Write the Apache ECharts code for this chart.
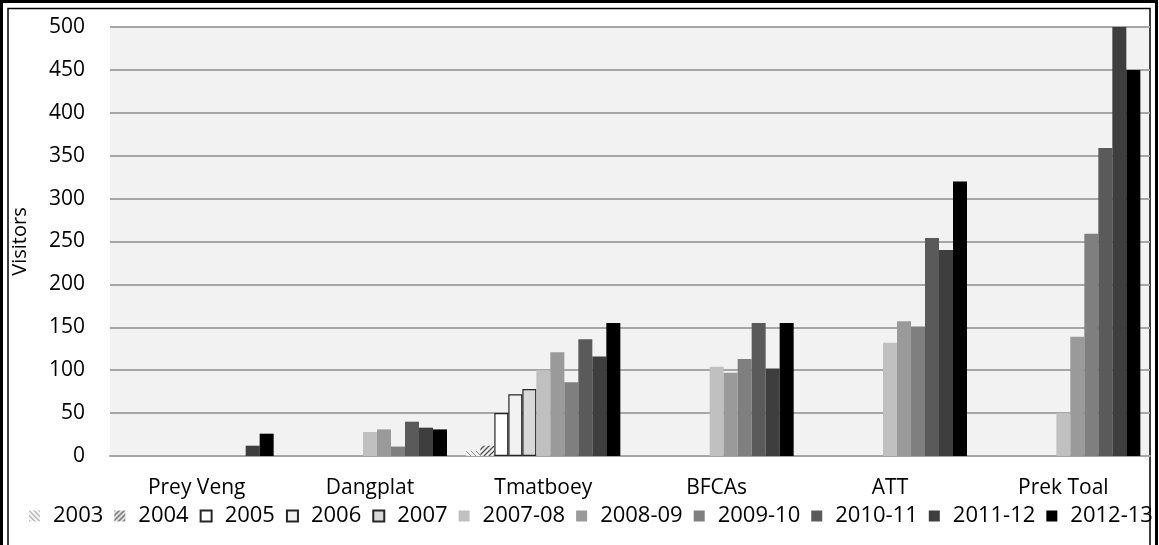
<!DOCTYPE html>
<html><head><meta charset="utf-8">
<script src="https://cdn.jsdelivr.net/npm/echarts@6/dist/echarts.min.js"></script>
<style>html,body{margin:0;padding:0;background:#fff}#c{width:1159px;height:545px}</style>
</head><body><div id="c"></div>
<script>
const categories = ['Prey Veng', 'Dangplat', 'Tmatboey', 'BFCAs', 'ATT', 'Prek Toal'];
const seriesNames = ['2003', '2004', '2005', '2006', '2007', '2007-08', '2008-09', '2009-10', '2010-11', '2011-12', '2012-13'];
const v2003 = [null, null, 6, null, null, null];
const v2004 = [null, null, 12, null, null, null];
const v2005 = [null, null, 50, null, null, null];
const v2006 = [null, null, 72, null, null, null];
const v2007 = [null, null, 78, null, null, null];
const v200708 = [null, 28, 100, 104, 132, 50];
const v200809 = [null, 31, 121, 97, 157, 139];
const v200910 = [null, 11, 86, 113, 151, 259];
const v201011 = [null, 40, 136, 155, 254, 359];
const v201112 = [12, 33, 116, 102, 240, 500];
const v201213 = [26, 31, 155, 155, 320, 450];
const yTicks = [0, 50, 100, 150, 200, 250, 300, 350, 400, 450, 500];
const allValues = [v2003, v2004, v2005, v2006, v2007, v200708, v200809, v200910, v201011, v201112, v201213];

function hatch(dir, stroke, lw) {
  const c = document.createElement('canvas');
  c.width = 5; c.height = 5;
  const g = c.getContext('2d');
  g.fillStyle = '#f2f2f2'; g.fillRect(0, 0, 5, 5);
  g.strokeStyle = stroke; g.lineWidth = lw;
  g.beginPath();
  if (dir === 'back') { g.moveTo(-1, -1); g.lineTo(6, 6); g.moveTo(-1, 4); g.lineTo(1, 6); g.moveTo(4, -1); g.lineTo(6, 1); }
  else { g.moveTo(-1, 6); g.lineTo(6, -1); g.moveTo(-1, 1); g.lineTo(1, -1); g.moveTo(4, 6); g.lineTo(6, 4); }
  g.stroke();
  return { image: c, repeat: 'repeat' };
}
const colors = [hatch('back', '#8a8a8a', 1), hatch('fwd', '#505050', 1.3), '#ffffff', '#f2f2f2', '#d9d9d9', '#c0c0c0', '#9a9a9a', '#7f7f7f', '#5a5a5a', '#3e3e3e', '#000000'];
const borders = [null, null, '#262626', '#262626', '#262626', null, null, null, null, null, null];

const FONT = 'Open Sans';
const chart = echarts.init(document.getElementById('c'), null, { renderer: 'canvas' });
chart.setOption({
  animation: false,
  backgroundColor: '#ffffff',
  textStyle: { fontFamily: FONT },
  graphic: [
    { type: 'rect', shape: { x: 1.5, y: 1.5, width: 1155, height: 570 }, style: { fill: null, stroke: '#000', lineWidth: 3 }, silent: true },
    { type: 'rect', shape: { x: 8, y: 8.5, width: 1142, height: 570 }, style: { fill: null, stroke: '#000', lineWidth: 1.5 }, silent: true }
  ],
  legend: {
    data: seriesNames,
    top: 500,
    left: 24,
    icon: 'rect',
    itemWidth: 11,
    itemHeight: 11,
    itemGap: 11,
    textStyle: { fontSize: 22, fontFamily: FONT, color: '#000', padding: [0, 0, 0, 8] }
  },
  grid: { left: 110, right: 9, top: 27, bottom: 89, show: true, backgroundColor: '#f2f2f2', borderWidth: 0 },
  xAxis: {
    type: 'category',
    data: categories,
    axisLine: { lineStyle: { color: '#a6a6a6', width: 2 } },
    axisTick: { show: false },
    axisLabel: { fontSize: 21, color: '#000', fontFamily: FONT, margin: 22 }
  },
  yAxis: {
    type: 'value',
    min: 0, max: 500, interval: 50,
    name: 'Visitors',
    nameLocation: 'middle',
    nameGap: 80,
    nameTextStyle: { fontSize: 20, color: '#000', fontFamily: FONT },
    axisLine: { show: false },
    axisTick: { show: false },
    splitLine: { lineStyle: { color: '#a6a6a6', width: 2 } },
    axisLabel: { fontSize: 21, color: '#000', fontFamily: FONT, margin: 25,
      formatter: v => yTicks.includes(v) ? String(v) : '' }
  },
  series: seriesNames.map((n, i) => ({
    name: n,
    type: 'bar',
    data: allValues[i],
    barWidth: 14,
    barGap: '0%',
    itemStyle: { color: colors[i], borderColor: borders[i] || 'transparent', borderWidth: borders[i] ? 1.2 : 0 }
  }))
});
</script></body></html>
